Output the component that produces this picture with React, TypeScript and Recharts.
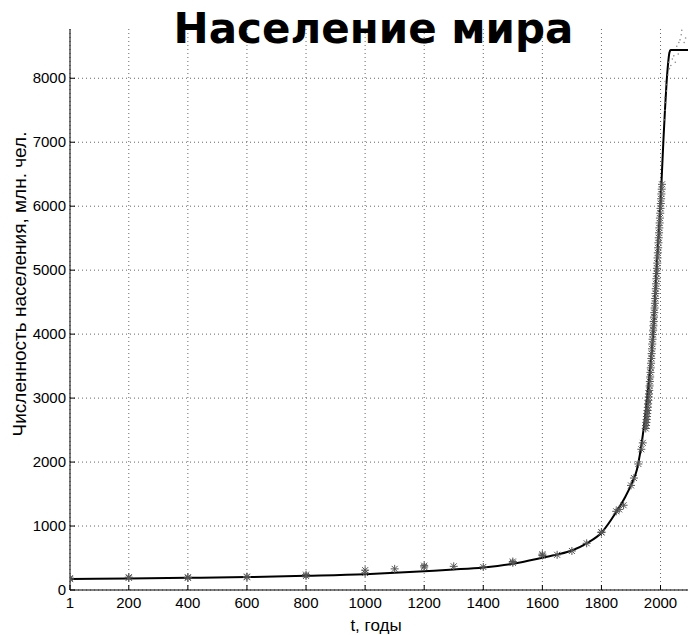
import React from "react";
import {
  ComposedChart,
  Line,
  Scatter,
  XAxis,
  YAxis,
  CartesianGrid,
  Label,
} from "recharts";

// model curve
const curveYears = [1, 200, 400, 600, 800, 1000, 1100, 1200, 1300, 1400, 1500, 1600, 1650, 1700, 1750, 1800, 1850, 1880, 1900, 1920, 1940, 1960, 1975, 1987, 1994, 2000, 2005, 2010, 2015, 2020, 2025, 2030, 2034, 2093];
const curveValues = [172, 180, 190, 202, 222, 247, 268, 294, 320, 352, 410, 504, 555, 618, 730, 895, 1218, 1450, 1640, 1880, 2420, 3250, 4010, 5050, 5580, 6050, 6550, 7050, 7500, 7900, 8200, 8400, 8440, 8440];

// historical estimates (several sources per year)
const histYears = [1, 1, 200, 200, 400, 400, 600, 600, 800, 800, 1000, 1000, 1100, 1200, 1200, 1300, 1400, 1500, 1500, 1600, 1600, 1650, 1700, 1750, 1800, 1800, 1850, 1860, 1875, 1900, 1910, 1925, 1935, 1940];
const histValues = [185, 170, 200, 190, 200, 190, 210, 200, 240, 220, 310, 265, 330, 380, 360, 370, 360, 445, 425, 560, 540, 550, 610, 730, 905, 900, 1230, 1260, 1325, 1635, 1750, 1970, 2200, 2300];

// annual data 1950-2005
const annualYears = [1950, 1951, 1952, 1953, 1954, 1955, 1956, 1957, 1958, 1959, 1960, 1961, 1962, 1963, 1964, 1965, 1966, 1967, 1968, 1969, 1970, 1971, 1972, 1973, 1974, 1975, 1976, 1977, 1978, 1979, 1980, 1981, 1982, 1983, 1984, 1985, 1986, 1987, 1988, 1989, 1990, 1991, 1992, 1993, 1994, 1995, 1996, 1997, 1998, 1999, 2000, 2001, 2002, 2003, 2004, 2005];
const annualValues = [2525, 2572, 2619, 2665, 2712, 2758, 2806, 2856, 2910, 2965, 3018, 3065, 3120, 3190, 3260, 3330, 3402, 3472, 3545, 3620, 3695, 3770, 3845, 3920, 3993, 4062, 4130, 4198, 4266, 4336, 4408, 4482, 4557, 4634, 4710, 4787, 4866, 4947, 5029, 5110, 5191, 5271, 5350, 5428, 5506, 5584, 5661, 5738, 5814, 5890, 5966, 6041, 6116, 6191, 6266, 6342];

// projections after 2005
const projYears = [2012, 2015, 2018, 2014, 2020, 2016, 2022, 2025, 2030, 2028, 2035, 2040, 2045, 2050, 2055, 2060, 2062, 2066, 2070, 2072, 2080, 2085];
const projValues = [7350, 7500, 7620, 7700, 7800, 7950, 7900, 8050, 8150, 8250, 8200, 8300, 8350, 8250, 8500, 8380, 8560, 8600, 8680, 8750, 8560, 8630];

const xTicks = [1, 200, 400, 600, 800, 1000, 1200, 1400, 1600, 1800, 2000];
const yTicks = [0, 1000, 2000, 3000, 4000, 5000, 6000, 7000, 8000];

const zip = (xs: number[], ys: number[]) => xs.map((year, i) => ({ year, v: ys[i] }));
const curveData = zip(curveYears, curveValues);
const histData = zip(histYears, histValues);
const annualData = zip(annualYears, annualValues);
const projData = zip(projYears, projValues);

const FONT = "'Liberation Sans', Arial, sans-serif";

const XTick = (props: any) => {
  const { x, y, payload } = props;
  return (
    <g>
      <line x1={x} y1={y} x2={x} y2={y - 5} stroke="#000" />
      <text x={x} y={y + 18} textAnchor="middle" fontSize={15} fontFamily={FONT} fill="#000">
        {payload.value}
      </text>
    </g>
  );
};

const YTick = (props: any) => {
  const { x, y, payload } = props;
  return (
    <g>
      <line x1={x} y1={y} x2={x + 5} y2={y} stroke="#000" />
      <text x={x - 4} y={y + 5} textAnchor="end" fontSize={15} fontFamily={FONT} fill="#000">
        {payload.value}
      </text>
    </g>
  );
};

const Star = (props: any) => {
  const { cx, cy } = props;
  if (cx == null || cy == null) return null;
  return (
    <g stroke="#555" strokeWidth={1}>
      <line x1={cx - 4} y1={cy} x2={cx + 4} y2={cy} />
      <line x1={cx} y1={cy - 4} x2={cx} y2={cy + 4} />
      <line x1={cx - 3} y1={cy - 3} x2={cx + 3} y2={cy + 3} />
      <line x1={cx - 3} y1={cy + 3} x2={cx + 3} y2={cy - 3} />
    </g>
  );
};

const Dot = (props: any) => {
  const { cx, cy } = props;
  if (cx == null || cy == null) return null;
  return <circle cx={cx} cy={cy} r={0.8} fill="#888" />;
};

export default function App() {
  return (
    <div style={{ position: "absolute", left: 0, top: 0, width: 688, height: 635, background: "#fff" }}>
      <ComposedChart width={688} height={635} margin={{ top: 29, right: 0, bottom: 0, left: 0 }}>
        <CartesianGrid stroke="#666" strokeDasharray="1 3" verticalValues={xTicks} horizontalValues={yTicks} />
        <XAxis
          type="number"
          dataKey="year"
          domain={[1, 2093]}
          ticks={xTicks}
          allowDataOverflow
          height={45}
          tickSize={0}
          tickMargin={0}
          tick={<XTick />}
          axisLine={{ stroke: "#000" }}
          tickLine={false}
        >
          <Label
            content={() => (
              <text x={376} y={631} textAnchor="middle" fontSize={17} fontFamily={FONT} fill="#000">
                t, годы
              </text>
            )}
          />
        </XAxis>
        <YAxis
          type="number"
          domain={[0, 8770]}
          ticks={yTicks}
          allowDataOverflow
          width={70}
          tickSize={0}
          tickMargin={0}
          tick={<YTick />}
          axisLine={{ stroke: "#000" }}
          tickLine={false}
        >
          <Label
            content={() => (
              <text
                x={26}
                y={284}
                transform="rotate(-90 26 284)"
                textAnchor="middle"
                fontSize={19}
                fontFamily={FONT}
                fill="#000"
              >
                Численность населения, млн. чел.
              </text>
            )}
          />
        </YAxis>
        <Scatter data={histData} dataKey="v" shape={<Star />} isAnimationActive={false} />
        <Scatter data={annualData} dataKey="v" shape={<Star />} isAnimationActive={false} />
        <Scatter data={projData} dataKey="v" shape={<Dot />} isAnimationActive={false} />
        <Line
          data={curveData}
          dataKey="v"
          type="monotone"
          stroke="#000"
          strokeWidth={2}
          dot={false}
          isAnimationActive={false}
        />
      </ComposedChart>
      <div
        style={{
          position: "absolute",
          left: 0,
          top: 4,
          width: 747,
          textAlign: "center",
          fontFamily: "'DejaVu Sans', Verdana, sans-serif",
          fontWeight: "bold",
          fontSize: 42,
          lineHeight: "50px",
          color: "#000",
          pointerEvents: "none",
        }}
      >
        Население мира
      </div>
    </div>
  );
}
